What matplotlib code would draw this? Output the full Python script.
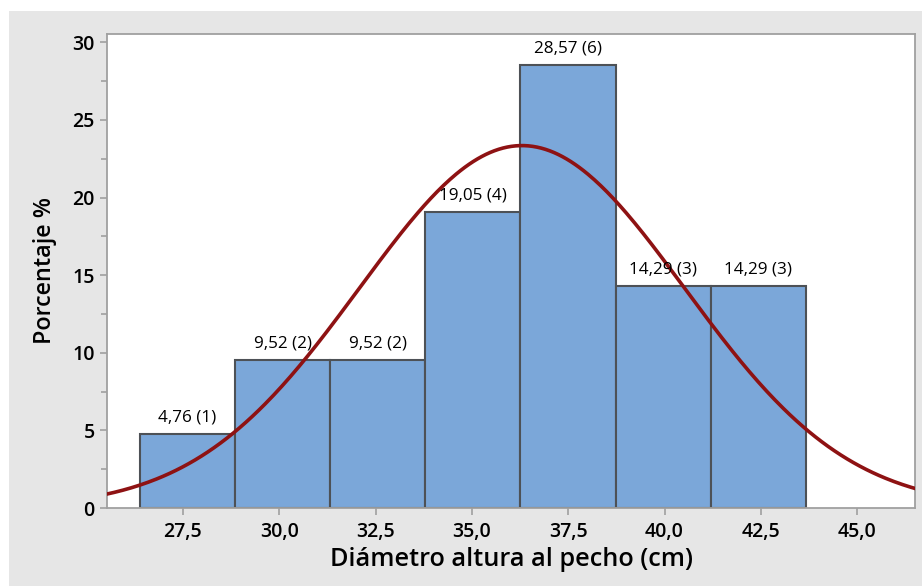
import numpy as np
import matplotlib
matplotlib.use('Agg')
import matplotlib.pyplot as plt
from matplotlib.patches import Rectangle
from matplotlib.ticker import FuncFormatter, MultipleLocator

# histogram classes (cm) and percentages
bin_start = 26.38
bin_width = 2.47
percent = [4.76, 9.52, 9.52, 19.05, 28.57, 14.29, 14.29]
counts = [1, 2, 2, 4, 6, 3, 3]

# fitted normal
mu = 36.3
sigma = 4.22

x_ticks = [27.5, 30.0, 32.5, 35.0, 37.5, 40.0, 42.5, 45.0]
y_ticks = [0, 5, 10, 15, 20, 25, 30]

plt.rcParams['font.family'] = ['Open Sans', 'DejaVu Sans']

fig = plt.figure(figsize=(9.22, 5.86), dpi=100)
fig.patches.append(Rectangle((9 / 922, 0), 1, 1 - 11 / 586, transform=fig.transFigure,
                             facecolor='#e6e6e6', edgecolor='none', zorder=-10))
ax = fig.add_axes([107 / 922, 1 - 508 / 586, (915 - 107) / 922, (508 - 34) / 586])
ax.set_facecolor('white')

edges = bin_start + bin_width * np.arange(len(percent))
ax.bar(edges, percent, width=bin_width, align='edge', color='#7ba7d9',
       edgecolor='#4d5156', linewidth=1.5, zorder=2)

for x0, p, c in zip(edges, percent, counts):
    lbl = '{:.2f} ({})'.format(p, c).replace('.', ',')
    ax.text(x0 + bin_width / 2, p + 0.55, lbl, ha='center', va='bottom', fontsize=12.3, zorder=4)

xs = np.linspace(25.0, 47.0, 400)
ys = 100 * bin_width * np.exp(-0.5 * ((xs - mu) / sigma) ** 2) / (sigma * np.sqrt(2 * np.pi))
ax.plot(xs, ys, color='#8e1213', linewidth=2.6, zorder=3)

ax.set_xlim(25.53, 46.5)
ax.set_ylim(0, 30.54)
ax.set_xticks(x_ticks)
ax.set_yticks(y_ticks)
ax.yaxis.set_minor_locator(MultipleLocator(2.5))
ax.xaxis.set_major_formatter(FuncFormatter(lambda v, p: '{:.1f}'.format(v).replace('.', ',')))

for s in ax.spines.values():
    s.set_color('#a0a0a0')
    s.set_linewidth(1.3)
ax.tick_params(axis='both', which='both', color='#a0a0a0', direction='out', width=1.2)
ax.tick_params(axis='both', which='major', length=5, labelsize=14, pad=4)
ax.tick_params(axis='x', which='major', pad=5)
ax.tick_params(axis='y', which='minor', length=4)
for t in ax.get_xticklabels() + ax.get_yticklabels():
    t.set_fontweight('semibold')

ax.set_xlabel('Diámetro altura al pecho (cm)', fontsize=18.2, fontweight='semibold', va='center')
ax.set_ylabel('Porcentaje %', fontsize=16.8, fontweight='semibold', va='center')
ax.xaxis.set_label_coords(0.5, (508 - 560) / 474)
ax.yaxis.set_label_coords((45 - 107) / 808, 0.5)

fig.savefig('out.png', dpi=100)
